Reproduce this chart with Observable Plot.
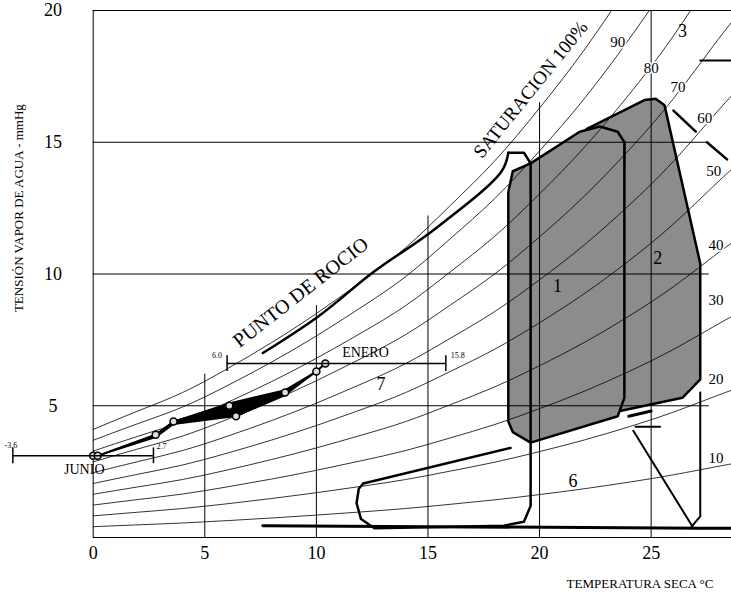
<!DOCTYPE html>
<html><head><meta charset="utf-8">
<script src="https://cdn.jsdelivr.net/npm/d3@7"></script>
<script src="https://cdn.jsdelivr.net/npm/@observablehq/plot@0.6"></script>
<style>body{margin:0;background:#fff}</style>
</head><body><div id="chart"></div>
<script>
// curva de saturación
const satT = [0,2,4,6,8,10,12,14,16,18,20,22,24,26,28,29];
const satV = [4.1,4.8,5.5,6.4,7.4,8.5,9.7,11.0,12.6,14.3,16.3,18.5,21.0,23.8,27,28.5];
const humedades = [10,20,30,40,50,60,70,80,90,100];
const rhLabels = [
  {t:"90",x:23.5,y:18.8},{t:"80",x:25,y:17.8},{t:"70",x:26.2,y:17.1},{t:"60",x:27.4,y:15.9},
  {t:"50",x:27.8,y:13.9},{t:"40",x:27.9,y:11.1},{t:"30",x:27.9,y:9.0},{t:"20",x:27.9,y:6.0},{t:"10",x:27.9,y:3.0}
];
// datos mensuales (junio -> enero)
const meses = [[0,3.1],[0.2,3.1],[2.8,3.9],[3.6,4.4],[6.1,5.0],[6.4,4.6],[8.6,5.5],[10.0,6.3],[10.4,6.6]];
const franjaMeses = [[0.2,3.1],[2.8,3.9],[3.6,4.4],[6.1,5.1],[8.6,5.6],[10.0,6.3],[8.6,5.4],[6.4,4.6],[3.6,4.3],[2.8,3.8]];
const junio = {min:-3.6, max:2.7, y:3.1};
const enero = {min:6.0, max:15.8, y:6.6};
// zonas
const zona2 = [[22.1,15.5],[24.7,16.6],[25.2,16.65],[25.6,16.4],[27.2,10.4],[27.2,6.0],[26.4,5.3],[23.6,4.8],[23.8,15]];
const zona1 = [[18.6,13.1],[18.8,13.9],[19.6,14.2],[21.8,15.4],[22.7,15.6],[23.5,15.4],[23.8,15],[23.8,5.3],[23.5,4.6],[19.6,3.6],[18.8,4.0],[18.6,4.4],[18.6,13.1]];
const rocioCurva = [[7.6,7.0],[10.1,8.4],[12.6,10.1],[15.3,11.7],[18.3,13.9],[18.6,14.6]];
const rocio = [[18.6,14.6],[19.3,14.6],[19.6,14.2],[19.6,1.2],[19.3,0.6],[18.4,0.45],[12.6,0.35],[12.0,0.7],[11.8,1.3],[11.9,1.85],[12.1,2.05]];
const zona6Top = [[12.1,2.05],[18.7,3.4]];
const base = [[7.6,0.45],[27.2,0.35],[28.6,0.35]];
const zona5 = [[27.2,5.5],[27.2,0.8],[26.8,0.4]];
const zona5Diag = [[24.2,4.05],[26.9,0.35],[27.3,0.35]];
const zona5Tick = [[24.3,4.2],[25.4,4.2]];
const zona5Thick = [[24.0,4.6],[25.0,4.8]];
const zona3 = [[27.2,18.1],[28.6,18.1]];
const zona4a = [[26.0,16.2],[27.0,15.4]];
const zona4b = [[27.5,15.0],[28.4,14.35]];
const zonaLabels = [{t:"1",x:20.8,y:9.55},{t:"2",x:25.3,y:10.6},{t:"3",x:26.4,y:19.2},{t:"6",x:21.5,y:2.15},{t:"7",x:12.9,y:5.8}];
const xTicks = [0,5,10,15,20,25];
const yTicks = [5,10,15,20];
const gridTops = [6.2,8.8,12.2,16.5,20];

const curvas = humedades.flatMap(h => satT.map((t,i) => ({h, x:t, y:satV[i]*h/100})));
const font = "Liberation Serif";
const L = (d, o={}) => Plot.line(d, {x:d=>d[0], y:d=>d[1], stroke:"black", ...o});
const ends = r => [{x:r.min, y1:r.y-0.3, y2:r.y+0.3}, {x:r.max, y1:r.y-0.3, y2:r.y+0.3}];

const chart = Plot.plot({
  width:731, height:594, marginLeft:9, marginRight:0, marginTop:10, marginBottom:57,
  style:{fontFamily:font, background:"white"},
  x:{domain:[-3.75,28.6], axis:null}, y:{domain:[0,20], axis:null},
  marks:[
    Plot.line(zona2, {x:d=>d[0], y:d=>d[1], fill:"#8c8c8c", stroke:"black", strokeWidth:2.5, curve:"linear-closed"}),
    Plot.line(zona1, {x:d=>d[0], y:d=>d[1], fill:"#8c8c8c", stroke:"black", strokeWidth:2.5}),
    Plot.ruleY(yTicks, {x1:0, x2:d=>d===20?28.6:27.6, stroke:"black", strokeWidth:1}),
    Plot.ruleX(xTicks, {y1:0, y2:(d,i)=>i===0?20:gridTops[i-1], stroke:"black", strokeWidth:1}),
    Plot.ruleY([0], {x1:0, x2:28.6, stroke:"black", strokeWidth:1.2}),
    Plot.line(curvas, {x:"x", y:"y", z:"h", stroke:"black", strokeWidth:0.8, curve:"natural", clip:true}),
    L(rocioCurva, {strokeWidth:2.5, curve:"catmull-rom"}),
    L(rocio, {strokeWidth:2.5}),
    L(zona6Top, {strokeWidth:2.5}), L(base, {strokeWidth:3}),
    L(zona5, {strokeWidth:2}), L(zona5Diag, {strokeWidth:2}), L(zona5Tick, {strokeWidth:2}),
    L(zona5Thick, {strokeWidth:3}), L(zona3, {strokeWidth:2}),
    L(zona4a, {strokeWidth:2.5}), L(zona4b, {strokeWidth:2.5}),
    Plot.line(franjaMeses, {x:d=>d[0], y:d=>d[1], fill:"black", stroke:"black", curve:"linear-closed"}),
    L(meses, {strokeWidth:2}),
    Plot.dot(meses, {x:d=>d[0], y:d=>d[1], r:3.5, stroke:"black", fill:"#ddd", strokeWidth:1.5}),
    // rangos junio / enero
    Plot.ruleY([junio], {x1:"min", x2:"max", y:"y", stroke:"black", strokeWidth:1.5}),
    Plot.ruleX(ends(junio), {x:"x", y1:"y1", y2:"y2", stroke:"black", strokeWidth:1.5}),
    Plot.ruleY([enero], {x1:"min", x2:"max", y:"y", stroke:"black", strokeWidth:1.5}),
    Plot.ruleX(ends(enero), {x:"x", y1:"y1", y2:"y2", stroke:"black", strokeWidth:1.5}),
    Plot.text([junio], {x:"min", y:"y", text:d=>String(d.min), dy:-10, dx:-2, fontSize:8}),
    Plot.text([junio], {x:"max", y:"y", text:d=>String(d.max), dy:-9, dx:8, fontSize:8}),
    Plot.text(["JUNIO"], {x:-0.4, y:junio.y, dy:14, fontSize:14}),
    Plot.text([enero], {x:"min", y:"y", text:d=>d.min.toFixed(1), dy:-8, dx:-10, fontSize:8}),
    Plot.text([enero], {x:"max", y:"y", text:d=>String(d.max), dy:-8, dx:12, fontSize:8}),
    Plot.text(["ENERO"], {x:12.2, y:enero.y, dy:-11, fontSize:14}),
    Plot.text(["PUNTO DE ROCIO"], {x:9.3, y:9.3, rotate:-38, fontSize:20}),
    Plot.text(["SATURACION 100%"], {x:19.6, y:17.0, rotate:-51, fontSize:19}),
    Plot.text(rhLabels, {x:"x", y:"y", text:"t", fontSize:15, fill:"black", stroke:"white", strokeWidth:3, paintOrder:"stroke"}),
    Plot.text(zonaLabels, {x:"x", y:"y", text:"t", fontSize:18}),
    // ejes
    Plot.text(xTicks, {x:d=>d, y:0, text:d=>String(d), dy:16, fontSize:18}),
    Plot.text(yTicks, {x:-1.8, y:d=>d, text:d=>String(d), fontSize:18}),
    Plot.text(["TEMPERATURA SECA °C"], {x:24.5, y:0, dy:46, fontSize:13}),
    Plot.text(["TENSIÓN VAPOR DE AGUA - mmHg"], {x:-3.35, y:12.5, rotate:-90, fontSize:13})
  ]
});
document.getElementById("chart").append(chart);
</script></body></html>
